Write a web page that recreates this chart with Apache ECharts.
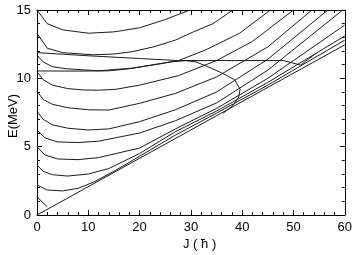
<!DOCTYPE html>
<html><head><meta charset="utf-8">
<script src="https://cdn.jsdelivr.net/npm/echarts@6/dist/echarts.min.js"></script>
<style>html,body{margin:0;padding:0;background:#fff}#c{width:355px;height:255px}</style>
</head><body><div id="c"></div>
<script>
// Data: [J, E] points of each curve
const c15  = [[0,15],[2,14.0],[5,13.55],[10,13.3],[15,13.4],[20,13.7],[25,14.3],[29.8,15]];
const c13  = [[0,13.29],[2,12.2],[5,11.88],[11,11.72],[15,11.78],[18.6,11.95],[23,12.33],[27,12.8],[30.5,13.4],[34.3,14.0],[38.2,15]];
const c11  = [[0,11.7],[1.2,11.2],[3,10.85],[5.7,10.7],[12,10.55],[18.6,10.75],[23,11.0],[27.6,11.3],[33,12.1],[39.5,13.3],[45.5,15]];
const c10  = [[0,10.49],[1.2,9.9],[3,9.5],[6,9.25],[9,9.15],[12,9.13],[15.4,9.2],[20,9.5],[27.6,10.2],[35,11.3],[42,12.7],[50,15]];
const c9   = [[0,9.07],[1.2,8.45],[3,8.1],[6,7.85],[10,7.7],[14,7.68],[20,8.17],[27,8.9],[35,10.1],[45,12.3],[53.6,15]];
const c7   = [[0,7.6],[1.2,7.0],[3,6.6],[6,6.35],[10,6.22],[14,6.3],[20,6.83],[27,7.7],[35,9.0],[45,11.4],[56.7,15]];
const c6   = [[0,6.22],[1.5,5.65],[4,5.35],[8,5.3],[12,5.4],[20,6.0],[27,6.9],[35,8.2],[45,10.6],[59.6,15]];
const c5   = [[0,5.0],[1.5,4.4],[4,4.1],[8,4.05],[12,4.2],[20,4.9],[27,6.3],[35,7.8],[45,10.0],[60,13.9]];
const c3   = [[0,3.66],[1.2,3.2],[3,2.95],[6,2.85],[10,3.0],[14,3.4],[20,4.5],[27,6.1],[35,7.6],[45,9.7],[60,13.1]];
const c2   = [[0,2.2],[2,1.83],[5,1.76],[8,1.95],[11,2.4],[15,3.2],[20,4.3],[27,5.85],[35,7.45],[45,9.5],[60,12.8]];
const c1   = [[0,1.34],[1,0.95],[2,0.6]];
const yrast = [[0,0],[60,12.45]];
const sepA = [[0,10.54],[8,10.53],[14,10.55],[18,10.7],[22,10.95],[26,11.2],[29,11.3],[31,11.2],[33,10.9],[36,10.4],[38.5,9.9],[39.6,9.2],[39.3,8.6],[38.2,8.0],[36.3,7.45]];
const sepB = [[0,11.88],[10,11.65],[20,11.45],[27.6,11.3],[48,11.3],[51.4,10.97],[54.3,11.8]];
const curves = [c15,c13,c11,c10,c9,c7,c6,c5,c3,c2,c1,yrast,sepA,sepB];
const xTicks = [0,10,20,30,40,50,60];
const yTicks = [0,5,10,15];

const chart = echarts.init(document.getElementById('c'), null, {renderer:'canvas'});
const FONT = 'Liberation Sans, Arial, sans-serif';
function ax(min, max, interval, position, len, main, labels) {
  return {
    type:'value', min:min, max:max, interval:interval, position:position,
    splitLine:{show:false},
    axisLine:{show:main, onZero:false, lineStyle:{color:'#000', width:1}},
    axisTick:{show:true, inside:true, length:len, lineStyle:{color:'#000', width:1}},
    axisLabel: labels ? {show:true, color:'#000', fontSize:13, fontFamily:FONT, margin:6} : {show:false}
  };
}
const X0 = xTicks[0], X1 = xTicks[xTicks.length-1], Y0 = yTicks[0], Y1 = yTicks[yTicks.length-1];
chart.setOption({
  animation:false,
  grid:{left:37, right:7, top:10, bottom:40},
  xAxis:[
    ax(X0,X1,10,'bottom',5,true,true),
    ax(X0,X1,10,'top',5,true,false),
    ax(X0,X1,2,'bottom',3,false,false),
    ax(X0,X1,2,'top',3,false,false)
  ],
  yAxis:[
    ax(Y0,Y1,5,'left',5,true,true),
    ax(Y0,Y1,5,'right',5,true,false),
    ax(Y0,Y1,1,'left',3,false,false),
    ax(Y0,Y1,1,'right',3,false,false)
  ],
  graphic:[
    {type:'text', left:183, top:238, style:{text:'J ( ħ )', fill:'#000', font:'13px '+FONT}},
    {type:'text', x:7, y:138, rotation:Math.PI/2, style:{text:'E(MeV)', fill:'#000', font:'13px '+FONT}}
  ],
  series: curves.map(d => ({type:'line', data:d, showSymbol:false, silent:true, xAxisIndex:0, yAxisIndex:0,
    lineStyle:{color:'#1a1a1a', width:1}, clip:true}))
});
</script></body></html>
